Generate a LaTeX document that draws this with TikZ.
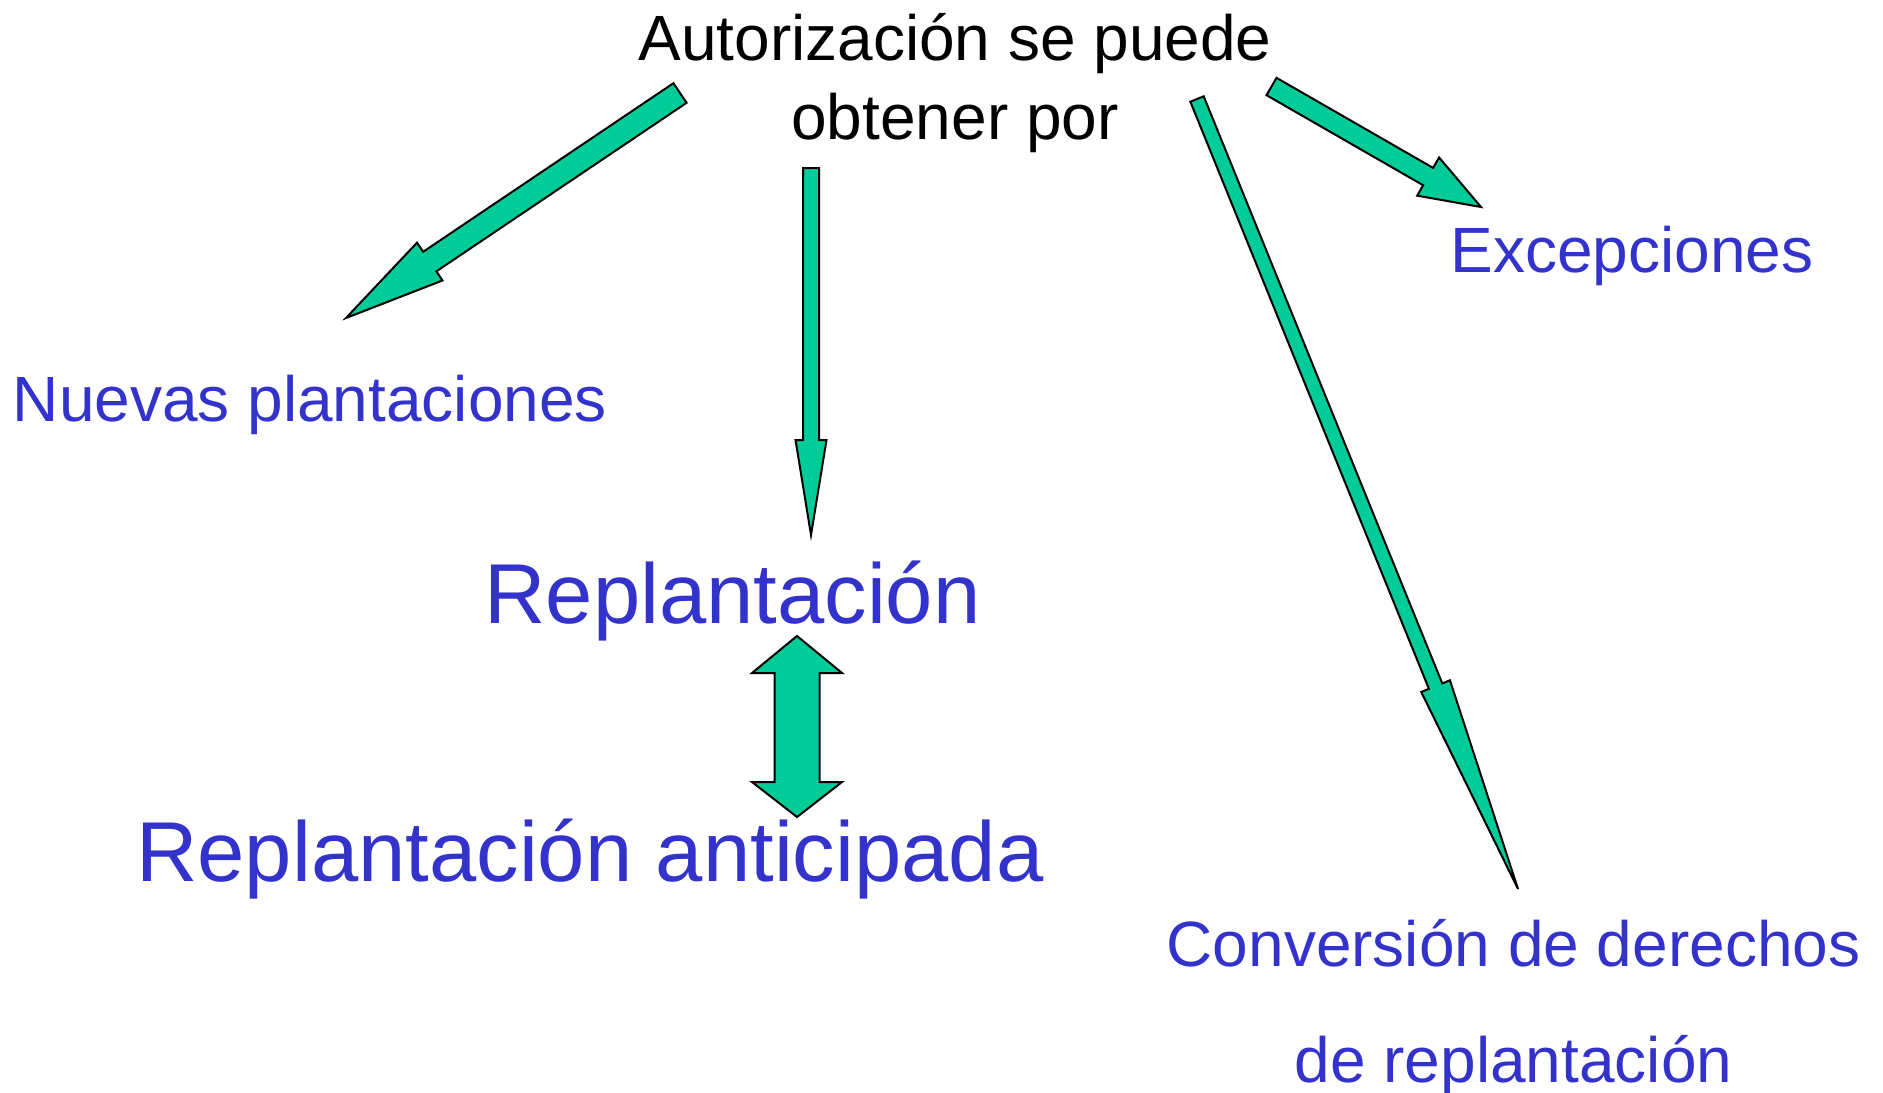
\documentclass[tikz,border=0pt]{standalone}
\usepackage{fontspec}
\setmainfont{Liberation Sans}
\usepackage{tikz}
\usetikzlibrary{calc}
\definecolor{arrowgreen}{HTML}{00CC99}
\definecolor{labelblue}{HTML}{3333CC}
\tikzset{blockarrow/.style={draw=black, line width=1pt, fill=arrowgreen, line join=miter}}
\tikzset{titletext/.style={align=center, inner sep=0mm, font=\fontsize{32pt}{39.5pt}\selectfont}}
\tikzset{bluetext/.style={align=center, inner sep=0mm, text=labelblue, font=\fontsize{32pt}{38pt}\selectfont}}
\tikzset{bigtext/.style={inner sep=0mm, text=labelblue, font=\fontsize{42.5pt}{50pt}\selectfont}}
% #1 tail, #2 tip, #3 half shaft, #4 half head, #5 head length
\newcommand{\blockarrow}[5]{%
  \coordinate (ba-h) at ($(#2)!#5!(#1)$);
  \draw[blockarrow] ($(#1)!#3!90:(#2)$) -- ($(ba-h)!#3!90:(#2)$) -- ($(ba-h)!#4!90:(#2)$) -- (#2)
    -- ($(ba-h)!#4!-90:(#2)$) -- ($(ba-h)!#3!-90:(#2)$) -- ($(#1)!#3!-90:(#2)$) -- cycle;}

\begin{document}
\begin{tikzpicture}[x=0.5pt, y=-0.5pt]
\useasboundingbox (0,0) rectangle (1883,1092);

% base of a two-line node is the base of its last line
\node[titletext, anchor=base] (title) at (955,139) {Autorización se puede\\obtener por};
\node[bluetext, anchor=base] (nuevas) at (310,421) {Nuevas plantaciones};
\node[bluetext, anchor=base] (excep) at (1632,272) {Excepciones};
\node[bigtext, anchor=base] (replant) at (732.5,623) {Replantación};
\node[bigtext, anchor=base] (anticip) at (590,881) {Replantación anticipada};
\node[bluetext, anchor=base, font=\fontsize{32pt}{58pt}\selectfont] (conv) at (1513.5,1082) {Conversión de derechos\\de replantación};

\coordinate (nuevasTail) at (680,93);
\coordinate (nuevasTip) at (346,318);
\coordinate (replantTail) at (811,168);
\coordinate (replantTip) at (811,535);
\coordinate (excepTail) at (1271.5,86.5);
\coordinate (excepTip) at (1481,207);
\coordinate (convTail) at (1197,99);
\coordinate (convTip) at (1518,889);

\blockarrow{nuevasTail}{nuevasTip}{5.9pt}{11.4pt}{50.5pt}
\blockarrow{replantTail}{replantTip}{4pt}{7.75pt}{47.5pt}
\blockarrow{excepTail}{excepTip}{5pt}{11pt}{30.5pt}
\blockarrow{convTail}{convTip}{3.6pt}{7.75pt}{109.5pt}

% double arrow between the two replantations
\coordinate (dblTop) at (797,636);
\coordinate (dblBot) at (797,817);
\draw[blockarrow] (dblTop) -- ++(45,37) -- ++(-22.5,0) -- ++(0,109) -- ++(22.5,0) -- (dblBot)
  -- ++(-45,-35) -- ++(22.5,0) -- ++(0,-109) -- ++(-22.5,0) -- cycle;
\end{tikzpicture}
\end{document}
